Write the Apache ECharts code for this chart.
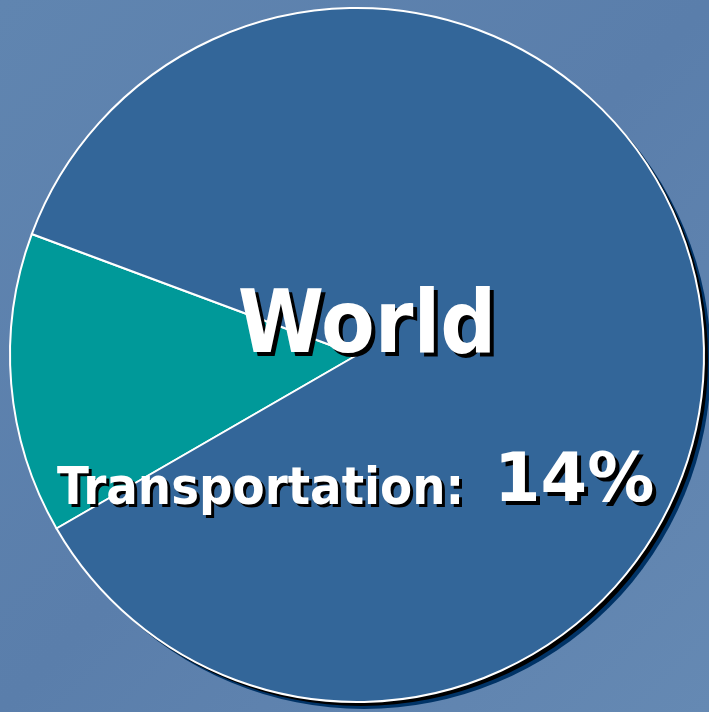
<!DOCTYPE html>
<html>
<head>
<meta charset="utf-8">
<script src="https://cdn.jsdelivr.net/npm/echarts@6/dist/echarts.min.js"></script>
<style>
  html, body { margin: 0; padding: 0; }
  #main { width: 709px; height: 712px; }
</style>
</head>
<body>
<div id="main"></div>
<script>
// data
const chartTitle = 'World';
const categories = ['Transportation', 'Other'];
const shares = [14, 86];
const sliceColors = ['#009999', '#336699'];

const pieCenter = [357, 355];
const pieRadius = 347;

let element = document.getElementById('main');
let myChart = echarts.init(element);

let pieData = categories.map((name, i) => ({
    name: name,
    value: shares[i],
    itemStyle: {color: sliceColors[i]}
}));

// shadow discs behind the pie
let shadowSeries = (dx, color) => ({
    type: 'pie',
    silent: true,
    center: [pieCenter[0] + dx, pieCenter[1] + dx],
    radius: pieRadius,
    label: {show: false},
    labelLine: {show: false},
    itemStyle: {color: color, borderWidth: 0},
    data: [{name: 'shadow', value: 1}]
});

// white text with a hard black drop shadow: draw it twice
let shadowedText = (text, left, top, align, family, size, off) => {
    let base = {
        fontFamily: family,
        fontWeight: 'bold',
        fontSize: size,
        lineHeight: size
    };
    return [
        {text: text, left: left + off, top: top + off, textAlign: align,
            textStyle: Object.assign({color: '#000'}, base)},
        {text: text, left: left, top: top, textAlign: align,
            textStyle: Object.assign({color: '#fff'}, base)}
    ];
};

let option = {
    backgroundColor: {
        type: 'linear', x: 0, y: 0, x2: 1, y2: 1,
        colorStops: [
            {offset: 0, color: '#6085b0'},
            {offset: 0.5, color: '#5a7eab'},
            {offset: 1, color: '#6589b3'}
        ]
    },
    animation: false,
    title: [].concat(
        shadowedText(chartTitle, 362, 281, 'center', 'DejaVu Sans Condensed', 87, 4),
        shadowedText(categories[0] + ':', 52, 459, 'left', 'DejaVu Sans Condensed', 52, 3),
        shadowedText(shares[0] + '%', 489, 445, 'left', 'DejaVu Sans', 67, 4)
    ),
    series: [
        shadowSeries(7, '#003366'),
        shadowSeries(4, '#000000'),
        {
            type: 'pie',
            center: pieCenter,
            radius: pieRadius,
            startAngle: 210,
            clockwise: true,
            silent: true,
            label: {show: false},
            labelLine: {show: false},
            itemStyle: {borderColor: '#ffffff', borderWidth: 2},
            data: pieData
        }
    ]
};

myChart.setOption(option);
</script>
</body>
</html>
